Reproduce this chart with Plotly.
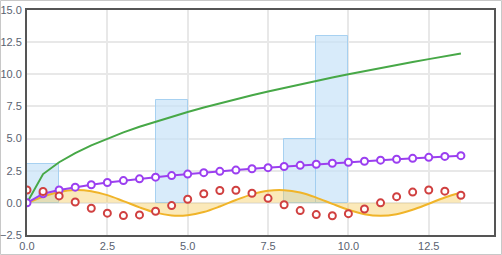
import plotly.graph_objects as go

# ---- data ----
x_pts = [0, 0.5, 1, 1.5, 2, 2.5, 3, 3.5, 4, 4.5, 5, 5.5, 6, 6.5, 7, 7.5,
         8, 8.5, 9, 9.5, 10, 10.5, 11, 11.5, 12, 12.5, 13, 13.5]
green_vals = [0, 2.24, 3.16, 3.87, 4.47, 5.00, 5.48, 5.92, 6.32, 6.71, 7.07, 7.42,
              7.75, 8.06, 8.37, 8.66, 8.94, 9.22, 9.49, 9.75, 10.00, 10.25, 10.49,
              10.72, 10.95, 11.18, 11.40, 11.62]
purple_vals = [0, 0.71, 1.00, 1.22, 1.41, 1.58, 1.73, 1.87, 2.00, 2.12, 2.24, 2.35,
               2.45, 2.55, 2.65, 2.74, 2.83, 2.92, 3.00, 3.08, 3.16, 3.24, 3.32,
               3.39, 3.46, 3.54, 3.61, 3.67]
red_vals = [1.00, 0.88, 0.54, 0.07, -0.42, -0.80, -0.99, -0.94, -0.65, -0.21, 0.28,
            0.71, 0.96, 0.98, 0.75, 0.35, -0.15, -0.60, -0.91, -1.00, -0.84, -0.48,
            0.00, 0.48, 0.84, 1.00, 0.91, 0.59]
yellow_vals = [0, 0.48, 0.84, 1.00, 0.91, 0.60, 0.14, -0.35, -0.76, -0.98, -0.96,
               -0.71, -0.28, 0.22, 0.66, 0.94, 0.99, 0.80, 0.41, -0.08, -0.54, -0.88,
               -1.00, -0.88, -0.54, -0.07, 0.42, 0.80]
bar_left = [0, 4, 8, 9]
bar_heights = [3, 8, 5, 13]
x_ticks = [0, 2.5, 5, 7.5, 10, 12.5]
y_ticks = [-2.5, 0, 2.5, 5, 7.5, 10, 12.5, 15]

fig = go.Figure()
fig.add_trace(go.Bar(
    x=bar_left, y=bar_heights, offset=0, width=1,
    marker=dict(color="rgba(200,226,248,0.7)",
                line=dict(color="rgba(160,205,240,0.9)", width=1)),
    showlegend=False))
fig.add_trace(go.Scatter(
    x=x_pts, y=yellow_vals, mode="lines", line=dict(color="#f0b429", width=2, shape="spline"),
    fill="tozeroy", fillcolor="rgba(245,200,80,0.4)", showlegend=False))
fig.add_trace(go.Scatter(
    x=x_pts, y=green_vals, mode="lines", line=dict(color="#47a847", width=2),
    showlegend=False))
fig.add_trace(go.Scatter(
    x=x_pts, y=purple_vals, mode="lines+markers", line=dict(color="#9b3ff0", width=2),
    marker=dict(symbol="circle", size=7, color="white", line=dict(color="#9b3ff0", width=2)),
    showlegend=False))
fig.add_trace(go.Scatter(
    x=x_pts, y=red_vals, mode="markers",
    marker=dict(symbol="circle", size=7, color="white", line=dict(color="#d04040", width=2)),
    showlegend=False))

W, H = 502, 255
ml, mr, mt, mb = 27, 8, 10, 20
pw, ph = W - ml - mr, H - mt - mb
fig.add_shape(type="rect", xref="paper", yref="paper",
              x0=(-ml + 0.5) / pw, x1=(W - ml - 0.5) / pw,
              y0=(-mb + 0.5) / ph, y1=(H - mb - 0.5) / ph,
              line=dict(color="#c8c8c8", width=1), layer="below")

fig.update_layout(
    width=W, height=H, margin=dict(l=ml, r=mr, t=mt, b=mb, autoexpand=False),
    paper_bgcolor="white", plot_bgcolor="white", bargap=0,
    font=dict(family="Liberation Sans, Arial, sans-serif", size=11, color="#5a6270"),
)
fig.update_xaxes(range=[0, 14.53], tickvals=x_ticks, tickformat=".1f", automargin=False,
                 showgrid=True, gridcolor="#e8e8e8", gridwidth=1.5, zeroline=False,
                 showline=True, linecolor="#555555", linewidth=2, mirror=True,
                 ticks="", ticklabelstandoff=0)
fig.update_yaxes(range=[-2.5, 15], tickvals=y_ticks, tickformat=".1f", automargin=False,
                 showgrid=True, gridcolor="#e8e8e8", gridwidth=1.5, zeroline=False,
                 showline=True, linecolor="#555555", linewidth=2, mirror=True,
                 ticks="", ticklabelstandoff=1)

fig.write_html("out.html")
